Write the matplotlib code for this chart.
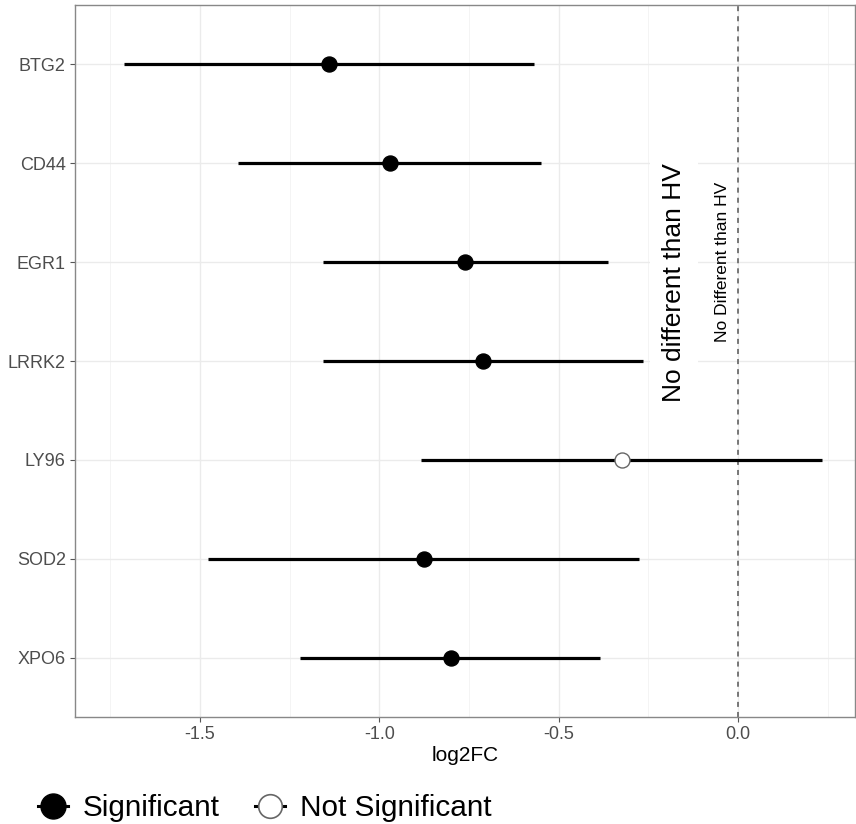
import matplotlib
matplotlib.use("Agg")
import matplotlib.pyplot as plt
from matplotlib.lines import Line2D
from matplotlib.ticker import FixedLocator

plt.rcParams['font.family'] = ['Liberation Sans', 'DejaVu Sans']

genes = ["BTG2", "CD44", "EGR1", "LRRK2", "LY96", "SOD2", "XPO6"]
log2fc = [-1.140, -0.970, -0.761, -0.711, -0.323, -0.875, -0.800]
ci_low = [-1.712, -1.394, -1.157, -1.157, -0.884, -1.478, -1.221]
ci_high = [-0.569, -0.549, -0.362, -0.265, 0.234, -0.276, -0.385]
significant = [True, True, True, True, False, True, True]
x_ticks = [-1.5, -1.0, -0.5, 0.0]
x_tick_labels = ["-1.5", "-1.0", "-0.5", "0.0"]

fig = plt.figure(figsize=(8.56, 8.24), dpi=100)
ax = fig.add_axes([75/856, 1-717/824, (855-75)/856, (717-5)/824])

ypos = list(range(len(genes)))

# grid
ax.set_xlim(-1.848, 0.326)
ax.set_ylim(len(genes) - 1 + 0.6, -0.6)
ax.xaxis.set_major_locator(FixedLocator(x_ticks))
ax.xaxis.set_minor_locator(FixedLocator([-1.75, -1.25, -0.75, -0.25, 0.25]))
ax.set_xticklabels(x_tick_labels)
ax.set_yticks(ypos)
ax.set_yticklabels(genes)
ax.grid(True, which='major', color='#ebebeb', linewidth=1.0, zorder=0)
ax.grid(True, which='minor', axis='x', color='#f4f4f4', linewidth=0.7, zorder=0)
ax.set_axisbelow(True)

# vertical reference line
ax.axvline(0, color='#555555', linewidth=1.1, linestyle=(0, (3.3, 3.3)), zorder=2)

# annotations
ax.text(-0.178, 2.21, "No different than HV", rotation=90, fontsize=19,
        ha='center', va='center', color='black', zorder=3,
        bbox=dict(boxstyle='square,pad=0.45', facecolor='white', edgecolor='none'))
ax.text(-0.042, 2.0, "No Different than HV", rotation=90, fontsize=12.5,
        ha='center', va='center', color='black', zorder=3)

# error bars
ax.hlines(ypos, ci_low, ci_high, color='black', linewidth=2.3, zorder=4)

# points
for y, v, s in zip(ypos, log2fc, significant):
    if s:
        ax.plot([v], [y], marker='o', markersize=10.8, markerfacecolor='black',
                markeredgecolor='black', linestyle='none', zorder=5)
    else:
        ax.plot([v], [y], marker='o', markersize=10.8, markerfacecolor='white',
                markeredgecolor='#666666', markeredgewidth=1.0, linestyle='none', zorder=5)

ax.set_xlabel("log2FC", fontsize=15, color='black', labelpad=2)
ax.tick_params(axis='both', which='major', labelsize=13, labelcolor='#4d4d4d',
               color='#555555', length=3.6, width=0.8, pad=3)
ax.tick_params(axis='x', which='minor', length=0)
for sp in ax.spines.values():
    sp.set_color('#888888')
    sp.set_linewidth(1.0)

handles = [
    Line2D([0], [0], color='black', linewidth=2.2, marker='o', markersize=18,
           markerfacecolor='black', markeredgecolor='black'),
    Line2D([0], [0], color='black', linewidth=2.2, marker='o', markersize=17,
           markerfacecolor='white', markeredgecolor='#666666', markeredgewidth=1.2),
]
fig.legend(handles, ["Significant", "Not Significant"], loc='center left',
           bbox_to_anchor=(38/856, 1-808/824), ncol=2, frameon=False,
           fontsize=21.4, handlelength=1.0, handletextpad=0.5,
           columnspacing=1.2, borderaxespad=0, borderpad=0)

fig.savefig("out.png", dpi=100)
